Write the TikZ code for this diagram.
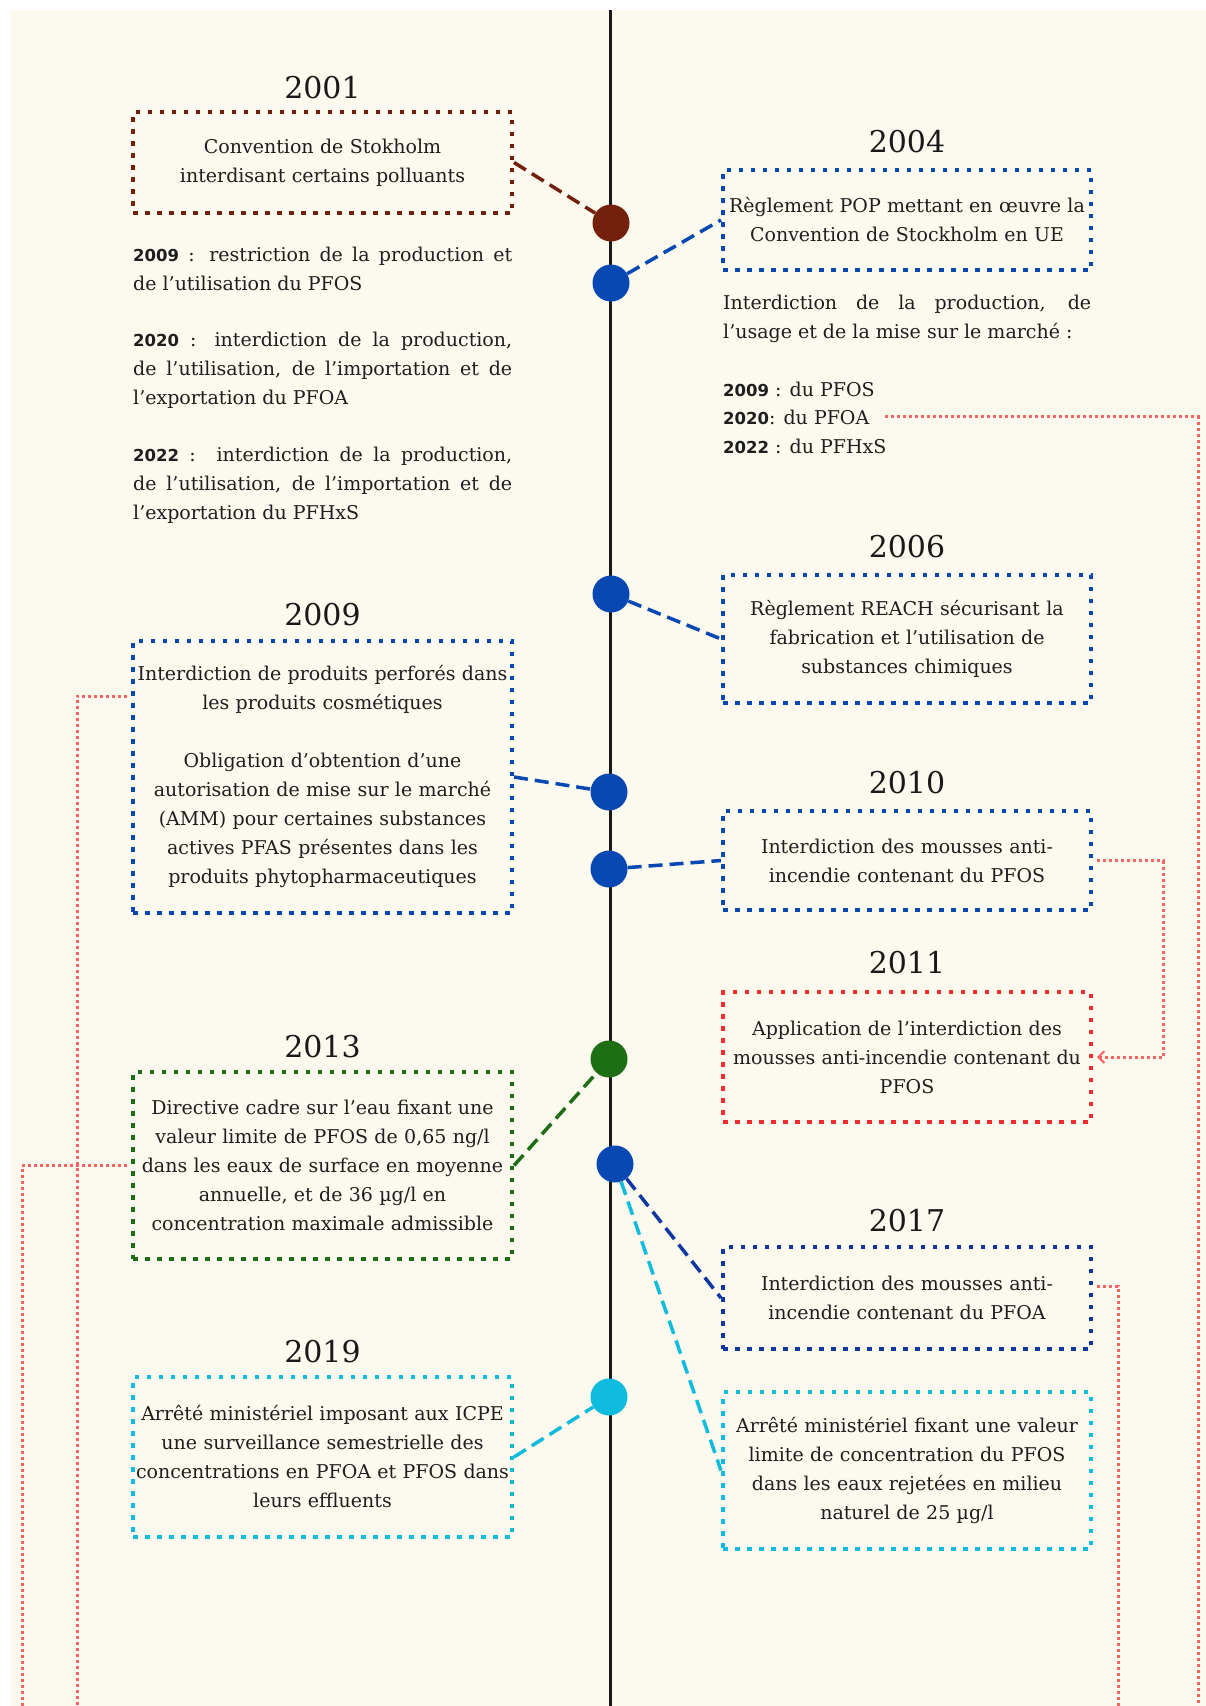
\documentclass[tikz,border=0pt]{standalone}
\usepackage{fontspec}
\setmainfont{DejaVu Serif}
\newfontfamily\yrsans{DejaVu Sans}
\usetikzlibrary{arrows.meta,calc}
\definecolor{bgc}{RGB}{252,249,238}
\definecolor{cbrown}{RGB}{115,32,12}
\definecolor{cblue}{RGB}{8,72,178}
\definecolor{cnavy}{RGB}{14,56,160}
\definecolor{cgreen}{RGB}{30,110,22}
\definecolor{ccyan}{RGB}{16,188,222}
\definecolor{cred}{RGB}{246,44,44}
\definecolor{clink}{RGB}{248,100,100}
\definecolor{ctext}{RGB}{30,30,30}
\newcommand{\boxfont}{\fontsize{19}{29}\selectfont}
\newcommand{\yearfont}{\fontsize{30}{30}\selectfont}
\newcommand{\by}[1]{{\yrsans\bfseries\fontsize{16.5}{29}\selectfont #1}}
\newcommand{\jlineL}[1]{\hbox to 379pt{#1}}
\newcommand{\llineL}[1]{\hbox to 379pt{#1\hfil}}
\newcommand{\jlineR}[1]{\hbox to 368pt{#1}}
\newcommand{\llineR}[1]{\hbox to 368pt{#1\hfil}}
\tikzset{
  evbox/.style={draw=#1, line width=4pt, dash pattern=on 4.5pt off 7.5pt,
    inner sep=0pt, align=center, text=ctext, font=\boxfont},
  lbox/.style={text width=379pt},
  rbox/.style={text width=368pt},
  yearlab/.style={inner sep=0pt, text=black!90, font=\yearfont},
  para/.style={inner sep=0pt, anchor=base west, text=ctext, font=\boxfont},
  dotc/.style={circle, fill=#1, minimum size=37pt, inner sep=0pt},
  conn/.style={draw=#1, line width=3.5pt, dash pattern=on 14pt off 7pt},
  link/.style={draw=clink, line width=3pt, dash pattern=on 3pt off 3pt},
}
\begin{document}
\begin{tikzpicture}[x=1pt,y=-1pt]
\useasboundingbox (0,0) rectangle (1206,1706);
\fill[white] (0,0) rectangle (1206,1706);
\fill[bgc] (10,10) rectangle (1206,1706);

% timeline
\coordinate (ltop) at (610,10);
\coordinate (lbot) at (610,1706);
\draw[line width=3pt, black!90] (ltop) -- (lbot);

% years
\node[yearlab] (y2001) at (322.5,88) {2001};
\node[yearlab] (y2004) at (907,142) {2004};
\node[yearlab] (y2009) at (322.5,615) {2009};
\node[yearlab] (y2006) at (907,547) {2006};
\node[yearlab] (y2010) at (907,783) {2010};
\node[yearlab] (y2011) at (907,963) {2011};
\node[yearlab] (y2013) at (322.5,1047) {2013};
\node[yearlab] (y2017) at (907,1221) {2017};
\node[yearlab] (y2019) at (322.5,1352) {2019};

% boxes left
\node[evbox=cbrown, lbox, minimum height=101pt] (b2001) at (322.5,162.5)
  {Convention de Stokholm\\interdisant certains polluants};
\node[evbox=cblue, lbox, minimum height=272pt] (b2009) at (322.5,777)
  {Interdiction de produits perforés dans\\les produits cosmétiques\\[29pt]Obligation d’obtention d’une\\autorisation de mise sur le marché\\(AMM) pour certaines substances\\actives PFAS présentes dans les\\produits phytopharmaceutiques};
\node[evbox=cgreen, lbox, minimum height=187pt] (b2013) at (322.5,1165.5)
  {Directive cadre sur l’eau fixant une\\valeur limite de PFOS de 0,65 ng/l\\dans les eaux de surface en moyenne\\annuelle, et de 36 µg/l en\\concentration maximale admissible};
\node[evbox=ccyan, lbox, minimum height=160pt] (b2019) at (322.5,1457)
  {Arrêté ministériel imposant aux ICPE\\une surveillance semestrielle des\\concentrations en PFOA et PFOS dans\\leurs effluents};

% boxes right
\node[evbox=cblue, rbox, minimum height=100pt] (b2004) at (907,220)
  {Règlement POP mettant en œuvre la\\Convention de Stockholm en UE};
\node[evbox=cblue, rbox, minimum height=128pt] (b2006) at (907,639)
  {Règlement REACH sécurisant la\\fabrication et l’utilisation de\\substances chimiques};
\node[evbox=cblue, rbox, minimum height=99pt] (b2010) at (907,860.5)
  {Interdiction des mousses anti-\\incendie contenant du PFOS};
\node[evbox=cred, rbox, minimum height=130pt] (b2011) at (907,1057)
  {Application de l’interdiction des\\mousses anti-incendie contenant du\\PFOS};
\node[evbox=cnavy, rbox, minimum height=102pt] (b2017) at (907,1298)
  {Interdiction des mousses anti-\\incendie contenant du PFOA};
\node[evbox=ccyan, rbox, minimum height=157pt] (bcyr) at (907,1470.5)
  {Arrêté ministériel fixant une valeur\\limite de concentration du PFOS\\dans les eaux rejetées en milieu\\naturel de 25 µg/l};

% paragraphs left
\node[para] (p1) at (133,261) {\vtop{\jlineL{\by{2009} : restriction de la production et}\llineL{de l’utilisation du PFOS}}};
\node[para] (p2) at (133,346) {\vtop{\jlineL{\by{2020} : interdiction de la production,}\jlineL{de l’utilisation, de l’importation et de}\llineL{l’exportation du PFOA}}};
\node[para] (p3) at (133,461) {\vtop{\jlineL{\by{2022} :\ \ interdiction de la production,}\jlineL{de l’utilisation, de l’importation et de}\llineL{l’exportation du PFHxS}}};

% paragraphs right
\node[para] (p4) at (723,309) {\vtop{\jlineR{Interdiction de la production, de}\llineR{l’usage et de la mise sur le marché :}}};
\node[para] (i2009) at (723,396) {\by{2009} : du PFOS};
\node[para] (i2020) at (723,424) {\by{2020}: du PFOA};
\node[para] (i2022) at (723,453) {\by{2022} : du PFHxS};

% circles
\node[dotc=cbrown] (c1) at (611,223) {};
\node[dotc=cblue] (c2) at (611,283) {};
\node[dotc=cblue] (c3) at (611,594) {};
\node[dotc=cblue] (c4) at (609,792) {};
\node[dotc=cblue] (c5) at (609,869) {};
\node[dotc=cgreen] (c6) at (609,1059) {};
\node[dotc=cblue] (c7) at (615,1164) {};
\node[dotc=ccyan] (c8) at (609,1397) {};

% connectors
\draw[conn=cbrown] (b2001.east) -- (c1);
\draw[conn=cblue] (c2) -- (b2004.west);
\draw[conn=cblue] (c3) -- (b2006.west);
\draw[conn=cblue] (b2009.east) -- (c4);
\draw[conn=cblue] (c5) -- (b2010.west);
\draw[conn=cgreen] (b2013.east) -- (c6);
\draw[conn=cnavy] (c7) -- (b2017.west);
\draw[conn=ccyan] (c7) -- (bcyr.west);
\draw[conn=ccyan] (b2019.east) -- (c8);

% red links
\coordinate (e1) at (77,1706);
\coordinate (e2) at (22,1706);
\coordinate (e3) at (1198,1706);
\coordinate (e4) at (1118,1706);
\draw[link] ($(b2009.north west)+(-4,57)$) -| (e1);
\draw[link] ([xshift=-4pt]b2013.west) -| (e2);
\draw[link] ([xshift=16pt]i2020.east) -| (e3);
\draw[link] ($(b2017.east)+(4,-12)$) -| (e4);
\draw[link, -{Straight Barb[length=6pt,width=12pt,line width=2pt]}, shorten >=4pt]
  ([xshift=4pt]b2010.east) -- ++(66,0) |- (b2011.east);
\end{tikzpicture}
\end{document}
